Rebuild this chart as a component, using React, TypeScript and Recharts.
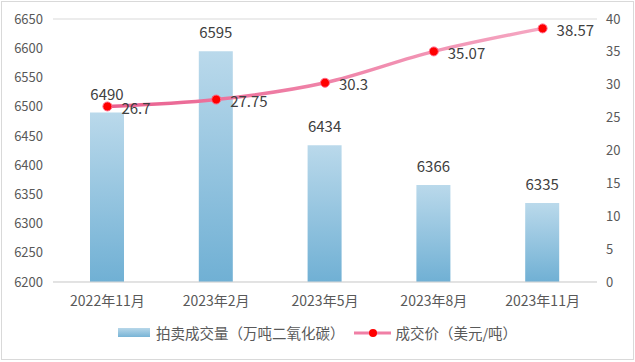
import React from "react"
import { ComposedChart, Bar, Line, XAxis, YAxis, CartesianGrid, Legend, LabelList } from "recharts"

const categories = ["2022年11月", "2023年2月", "2023年5月", "2023年8月", "2023年11月"]
const volume = [6490, 6595, 6434, 6366, 6335]
const price = [26.7, 27.75, 30.3, 35.07, 38.57]
const leftTicks = [6200, 6250, 6300, 6350, 6400, 6450, 6500, 6550, 6600, 6650]
const rightTicks = [0, 5, 10, 15, 20, 25, 30, 35, 40]

const volumeName = "拍卖成交量（万吨二氧化碳）"
const priceName = "成交价（美元/吨）"

const data = categories.map((c, i) => ({ month: c, volume: volume[i], price: price[i] }))

const font = '"Noto Sans CJK SC", "Noto Sans", sans-serif'

function LegendContent() {
  return (
    <div style={{ display: "flex", justifyContent: "center", alignItems: "center", fontSize: 14.5, color: "#595959", fontFamily: font }}>
      <span style={{ display: "inline-block", width: 32, height: 9, background: "linear-gradient(#b7d7e9, #78b4d6)", marginRight: 6 }} />
      <span style={{ marginRight: 10 }}>{volumeName}</span>
      <svg width={37} height={12} style={{ marginRight: 4 }}>
        <line x1={0} y1={6} x2={37} y2={6} stroke="#f07fa5" strokeWidth={3} />
        <circle cx={19} cy={6} r={4} fill="#ff0000" />
      </svg>
      <span>{priceName}</span>
    </div>
  )
}

export default function App() {
  return (
    <div style={{ position: "absolute", left: 0, top: 0, width: 635, height: 362, background: "#fff" }}>
      <div style={{ position: "absolute", left: 1, top: 1, width: 631, height: 357, border: "1px solid #d9d9d9", pointerEvents: "none" }} />
      <ComposedChart width={635} height={362} data={data} margin={{ top: 19, right: 0, left: 0, bottom: 14 }} style={{ fontFamily: font }}>
        <defs>
          <linearGradient id="barFill" x1="0" y1="0" x2="0" y2="1">
            <stop offset="0%" stopColor="#bad9eb" />
            <stop offset="100%" stopColor="#70b0d4" />
          </linearGradient>
          <linearGradient id="lineStroke" x1="0" y1="0" x2="1" y2="0">
            <stop offset="0%" stopColor="#e9608f" />
            <stop offset="100%" stopColor="#f5a7c2" />
          </linearGradient>
        </defs>
        <CartesianGrid vertical={false} stroke="#d9d9d9" />
        <XAxis
          dataKey="month"
          height={40}
          axisLine={{ stroke: "#d9d9d9" }}
          tickLine={false}
          tickSize={0}
          tickMargin={14}
          tick={{ fill: "#595959", fontSize: 14 }}
        />
        <YAxis
          yAxisId="left"
          width={53}
          domain={[6200, 6650]}
          ticks={leftTicks}
          axisLine={false}
          tickLine={false}
          tickSize={0}
          tickMargin={10}
          tick={{ fill: "#595959", fontSize: 13 }}
        />
        <YAxis
          yAxisId="right"
          orientation="right"
          width={38}
          domain={[0, 40]}
          ticks={rightTicks}
          axisLine={false}
          tickLine={false}
          tickSize={0}
          tickMargin={9}
          tick={{ fill: "#595959", fontSize: 13 }}
        />
        <Legend verticalAlign="bottom" height={26} content={<LegendContent />} />
        <Bar yAxisId="left" dataKey="volume" name={volumeName} fill="url(#barFill)" barSize={34} isAnimationActive={false}>
          <LabelList dataKey="volume" position="top" offset={13} fill="#404040" fontSize={15} />
        </Bar>
        <Line
          yAxisId="right"
          type="monotone"
          dataKey="price"
          name={priceName}
          stroke="url(#lineStroke)"
          strokeWidth={3.5}
          dot={{ r: 4.5, fill: "#ff0000", stroke: "#ff6a8a", strokeWidth: 1 }}
          activeDot={false}
          isAnimationActive={false}
        >
          <LabelList dataKey="price" position="right" offset={14} fill="#404040" fontSize={15} dy={2} />
        </Line>
      </ComposedChart>
    </div>
  )
}
